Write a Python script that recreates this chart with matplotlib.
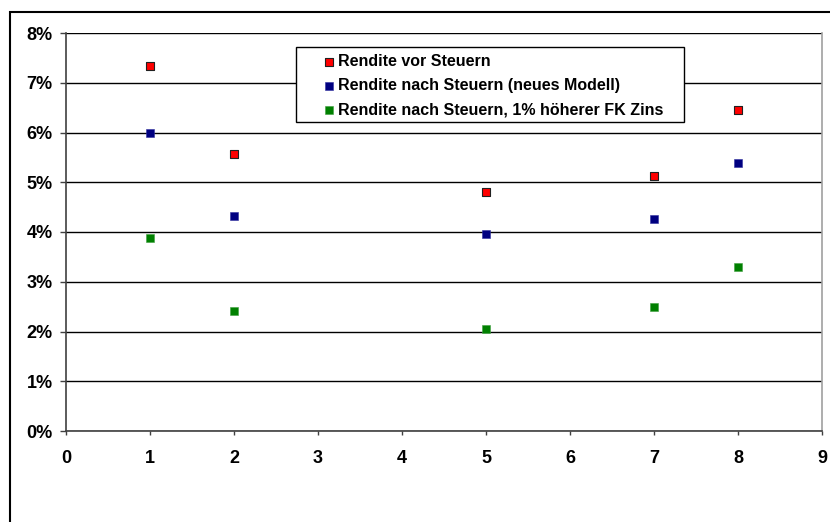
import matplotlib.pyplot as plt
from matplotlib.patches import Rectangle
from matplotlib.ticker import FuncFormatter

plt.rcParams['font.family'] = ['Liberation Sans', 'DejaVu Sans']

# Jahre / Rendite in Prozent
jahre = [1, 2, 5, 7, 8]
vor_steuern = [7.34, 5.57, 4.80, 5.13, 6.45]
nach_steuern = [5.98, 4.32, 3.95, 4.27, 5.39]
nach_steuern_fk = [3.87, 2.41, 2.06, 2.49, 3.30]

labels = ['Rendite vor Steuern',
          'Rendite nach Steuern (neues Modell)',
          'Rendite nach Steuern, 1% höherer FK Zins']

W, H = 830, 522
fig = plt.figure(figsize=(W / 100, H / 100), dpi=100)
ax = fig.add_axes([66 / W, 1 - 431 / H, (822 - 66) / W, (431 - 33) / H])

ax.scatter(jahre, vor_steuern, marker='s', s=30, c='#ff0000',
           edgecolors='#202020', linewidths=0.8, label=labels[0], zorder=3)
ax.scatter(jahre, nach_steuern, marker='s', s=36, c='#000080',
           edgecolors='#3030a0', linewidths=0.4, label=labels[1], zorder=3)
ax.scatter(jahre, nach_steuern_fk, marker='s', s=36, c='#008000',
           edgecolors='#40a040', linewidths=0.4, label=labels[2], zorder=3)

ax.set_xlim(0, 9)
ax.set_ylim(0, 8)
ax.set_xticks(range(10))
ax.set_yticks(range(9))
ax.yaxis.set_major_formatter(FuncFormatter(lambda v, p: f'{v:.0f}%'))

ax.grid(axis='y', color='#000000', linewidth=1.0)
ax.set_axisbelow(True)

ax.spines['top'].set_visible(False)
ax.spines['left'].set_color('#404040')
ax.spines['bottom'].set_color('#404040')
ax.spines['right'].set_color('#a0a0a0')
for s in ax.spines.values():
    s.set_linewidth(1.2)

ax.tick_params(axis='y', direction='out', length=4.5, width=1, color='#404040',
               pad=5, labelsize=13)
ax.tick_params(axis='x', direction='out', length=3, width=1, color='#404040',
               pad=11, labelsize=13)
for t in ax.get_xticklabels() + ax.get_yticklabels():
    t.set_fontweight('bold')

# Legende ohne eigenen Rahmen, Rahmen separat dahinter
leg = ax.legend(loc='upper left', bbox_to_anchor=(324 / W, 1 - 54.5 / H),
                bbox_transform=fig.transFigure, frameon=False,
                handlelength=0.6, handletextpad=0.25, borderpad=0,
                labelspacing=0.56, borderaxespad=0,
                prop={'weight': 'bold', 'size': 11.5}, markerscale=0.95)
leg.set_zorder(6)
ax.add_patch(Rectangle((296 / W, 1 - 122 / H), (684 - 296) / W, 75 / H,
                       transform=fig.transFigure, facecolor='white',
                       edgecolor='black', linewidth=1.0, zorder=5,
                       clip_on=False))

# Rahmen um das gesamte Diagramm
fig.patches.append(Rectangle((10 / W, -0.1), 1.1, 1.1 - 12 / H,
                             transform=fig.transFigure, fill=False,
                             edgecolor='black', linewidth=1.5))

fig.savefig('out.png', dpi=100)
